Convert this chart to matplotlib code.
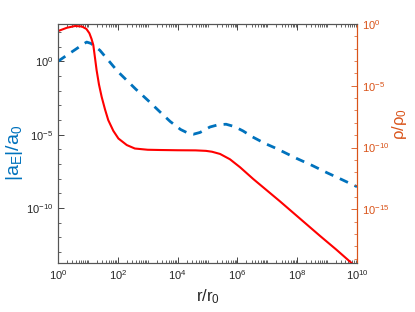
import numpy as np
import matplotlib
matplotlib.use("Agg")
import matplotlib.pyplot as plt
from matplotlib.ticker import LogLocator, NullFormatter, FixedLocator

plt.rcParams['font.family'] = ['Liberation Sans', 'DejaVu Sans']
plt.rcParams['mathtext.default'] = 'regular'

# log10 values
blue_logr = [0.0, 0.3, 0.6, 0.85, 0.96, 1.1, 1.4, 2.0, 2.6, 3.0, 3.41, 3.75, 4.1, 4.35,
             4.53, 4.75, 5.08, 5.35, 5.62, 5.9, 6.19, 6.5, 6.92, 7.31, 7.98, 8.5, 9.0, 9.5, 10.0]
blue_loga = [0.0, 0.42, 0.83, 1.18, 1.31, 1.22, 0.75, -0.7, -1.9, -2.65, -3.45, -4.1, -4.65, -4.9,
             -4.97, -4.85, -4.48, -4.33, -4.29, -4.45, -4.75, -5.15, -5.6, -5.95, -6.62, -7.1, -7.6, -8.07, -8.55]

red_logr = [0.0, 0.3, 0.57, 0.8, 0.95, 1.05, 1.12, 1.18, 1.24, 1.29, 1.37, 1.46, 1.57, 1.68, 1.85, 2.02,
            2.3, 2.57, 3.0, 3.41, 4.0, 4.6, 4.95, 5.15, 5.42, 5.75, 6.09, 6.53, 7.0, 7.42, 8.09, 8.76, 9.3,
            9.77, 10.0]
red_logrho = [-0.57, -0.3, -0.16, -0.2, -0.4, -0.75, -1.2, -1.7, -2.8, -3.73, -4.9, -5.9, -6.9, -7.78, -8.65,
              -9.27, -9.8, -10.08, -10.18, -10.2, -10.22, -10.23, -10.27, -10.34, -10.52, -10.95, -11.6, -12.55,
              -13.5, -14.35, -15.75, -17.15, -18.25, -19.25, -19.75]

blue_c = (0.0, 0.447, 0.741)
orange_c = (0.85, 0.325, 0.098)
gray = '#262626'

fig = plt.figure(figsize=(4.15, 3.12), dpi=100)
ax = fig.add_axes([0.1398, 0.157, 0.7205, 0.766])
ax2 = ax.twinx()

ax.plot(10.0 ** np.array(blue_logr), 10.0 ** np.array(blue_loga), '--', color=blue_c,
        lw=2.0, dashes=(3.2, 2.6))
ax2.plot(10.0 ** np.array(red_logr), 10.0 ** np.array(red_logrho), '-', color='red', lw=1.5)

ax.set_xscale('log')
ax.set_yscale('log')
ax2.set_yscale('log')
ax.set_xlim(1, 1e10)
ax.set_ylim(10 ** -13.75, 10 ** 2.54)
ax2.set_ylim(10 ** -19.35, 1)

ax.xaxis.set_major_locator(FixedLocator([10.0 ** k for k in range(0, 11, 2)]))
ax.xaxis.set_minor_locator(LogLocator(base=10, subs=np.arange(1, 10), numticks=30))
ax.xaxis.set_minor_formatter(NullFormatter())

ax.yaxis.set_major_locator(FixedLocator([1e-10, 1e-5, 1e0]))
ax.yaxis.set_minor_locator(FixedLocator([10.0 ** k for k in range(-13, 3)]))
ax.yaxis.set_minor_formatter(NullFormatter())
ax2.yaxis.set_major_locator(FixedLocator([1e-15, 1e-10, 1e-5, 1e0]))
ax2.yaxis.set_minor_locator(FixedLocator([10.0 ** k for k in range(-19, 1)]))
ax2.yaxis.set_minor_formatter(NullFormatter())

ax.tick_params(axis='both', which='both', direction='in', labelsize=8, colors=gray, top=True)
ax.tick_params(which='major', length=4, width=0.6)
ax.tick_params(which='minor', length=2, width=0.5)
ax2.tick_params(axis='y', which='both', direction='in', labelsize=8, colors=orange_c)
ax2.tick_params(which='major', length=4, width=0.6)
ax2.tick_params(which='minor', length=2, width=0.5)

for s in ['left', 'top', 'bottom']:
    ax.spines[s].set_color('#555555')
    ax2.spines[s].set_color('#555555')
ax2.spines['right'].set_color(orange_c)
ax.spines['right'].set_color(orange_c)

ax.set_xlabel('r/r$_0$', fontsize=12, color=gray)
ax.xaxis.set_label_coords(0.5, -0.1)
ax.set_ylabel('|a$_E$|/a$_0$', fontsize=14, color=blue_c)
ax.yaxis.set_label_coords(-0.11, 0.46)
ax2.set_ylabel(r'$\rho/\rho_0$', fontsize=12, color=orange_c, math_fontfamily='dejavusans')
ax2.yaxis.set_label_coords(1.11, 0.58)

fig.savefig('out.png', dpi=100)
